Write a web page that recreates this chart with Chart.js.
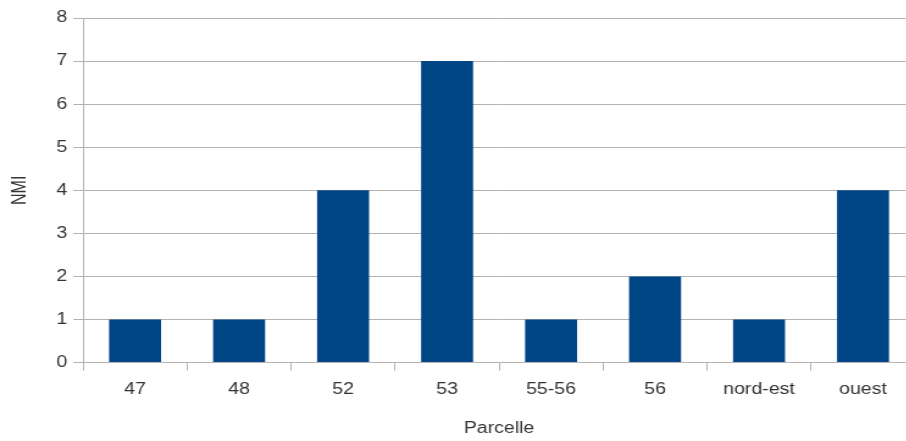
<!DOCTYPE html>
<html lang="en">
<head>
  <meta charset="UTF-8">
  <title>NMI par parcelle</title>
  <script src="https://cdn.jsdelivr.net/npm/chart.js"></script>
  <style>
    body {
      margin: 0;
      background: white;
      overflow: hidden;
    }
    /* the source picture is stretched horizontally, so stretch the whole canvas */
    .wrap {
      transform: scaleX(1.22);
      transform-origin: 0 0;
    }
    canvas {
      display: block;
    }
  </style>
</head>
<body>
  <div class="wrap">
    <canvas id="nmiChart" width="750" height="441"></canvas>
  </div>

  <script>
    // Data
    const parcelles = ["47", "48", "52", "53", "55-56", "56", "nord-est", "ouest"];
    const nmiValues = [1, 1, 4, 7, 1, 2, 1, 4];

    const gridColor = "#b3b3b3";
    const textColor = "#333333";
    const font = { family: "'Liberation Sans', Arial, sans-serif", size: 16 };

    const config = {
      type: 'bar',
      data: {
        labels: parcelles,
        datasets: [{
          label: "NMI",
          data: nmiValues,
          backgroundColor: "#004586",
          categoryPercentage: 1.0,
          barPercentage: 0.5
        }]
      },
      options: {
        responsive: false,
        animation: false,
        layout: {
          padding: { top: 18, right: 0, bottom: 3, left: 7 }
        },
        plugins: {
          legend: { display: false },
          tooltip: { enabled: false }
        },
        scales: {
          x: {
            grid: {
              offset: true,
              drawOnChartArea: false,
              drawTicks: true,
              tickLength: 8,
              color: gridColor
            },
            border: { color: gridColor },
            ticks: { color: textColor, font: font, padding: 9, maxRotation: 0 },
            title: {
              display: true,
              text: 'Parcelle',
              color: textColor,
              font: font,
              padding: { top: 11, bottom: 0 }
            }
          },
          y: {
            min: 0,
            max: 8,
            grid: {
              color: gridColor,
              tickLength: 8
            },
            border: { color: gridColor },
            ticks: { stepSize: 1, color: textColor, font: font, padding: 5 },
            title: {
              display: true,
              text: 'NMI',
              color: textColor,
              font: font,
              padding: { top: 0, bottom: 15 }
            }
          }
        }
      }
    };

    new Chart(document.getElementById('nmiChart'), config);
  </script>
</body>
</html>
